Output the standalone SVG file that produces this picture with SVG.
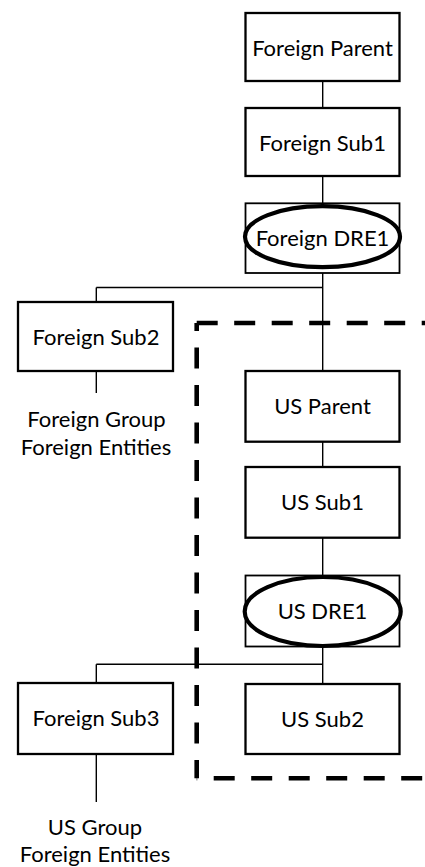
<svg xmlns="http://www.w3.org/2000/svg" width="425" height="867" viewBox="0 0 425 867">
  <style>
    .box { fill: #fff; stroke: #000; stroke-width: 2.3; }
    .dre { fill: #fff; stroke: #000; stroke-width: 1.8; }
    .oval { fill: #fff; stroke: #000; stroke-width: 4.2; }
    .wire { fill: none; stroke: #000; stroke-width: 1.4; }
    .fence { fill: none; stroke: #000; stroke-width: 4.6; stroke-dasharray: 21 16.5; }
    text { font-family: Lato, "Liberation Sans", sans-serif; font-size: 22px; fill: #000; text-anchor: middle; }
  </style>
  <rect width="425" height="867" fill="#fff"/>

  <!-- US group boundary (dashed) -->
  <g id="us-boundary">
    <path class="fence" d="M196.7,323 H440"/>
    <path class="fence" d="M196.7,323 V778.3" stroke-dashoffset="13"/>
    <path class="fence" d="M196.7,778.3 H440" stroke-dashoffset="20.5"/>
  </g>

  <!-- ownership connectors -->
  <g id="connectors">
    <path class="wire" d="M322.7,81 V108"/>
    <path class="wire" d="M322.7,176 V203"/>
    <path class="wire" d="M322.7,273 V371"/>
    <path class="wire" d="M96.3,287.5 H322.7"/>
    <path class="wire" d="M96.3,287.5 V302"/>
    <path class="wire" d="M96.3,371 V393"/>
    <path class="wire" d="M322.7,441.7 V467"/>
    <path class="wire" d="M322.7,537.7 V575.5"/>
    <path class="wire" d="M322.7,646.5 V684"/>
    <path class="wire" d="M96.3,664.3 H322.7"/>
    <path class="wire" d="M96.3,664.3 V683"/>
    <path class="wire" d="M96.3,754 V802"/>
  </g>

  <g id="foreign-parent">
    <rect class="box" x="245.5" y="13" width="154" height="68"/>
    <text x="322.5" y="55.5">Foreign Parent</text>
  </g>

  <g id="foreign-sub1">
    <rect class="box" x="245.5" y="108" width="154" height="68"/>
    <text x="322.5" y="151">Foreign Sub1</text>
  </g>

  <g id="foreign-dre1">
    <rect class="dre" x="245.5" y="203.3" width="154" height="69.7"/>
    <ellipse class="oval" cx="322.5" cy="236.7" rx="77.5" ry="30.5"/>
    <text x="322.5" y="245.5">Foreign DRE1</text>
  </g>

  <g id="foreign-sub2">
    <rect class="box" x="18" y="302" width="155" height="69"/>
    <text x="96" y="345">Foreign Sub2</text>
  </g>

  <g id="foreign-group-label">
    <text x="96.5" y="427">Foreign Group</text>
    <text x="96" y="455">Foreign Entities</text>
  </g>

  <g id="us-parent">
    <rect class="box" x="245.5" y="371" width="154" height="70.7"/>
    <text x="322.5" y="414">US Parent</text>
  </g>

  <g id="us-sub1">
    <rect class="box" x="245.5" y="467" width="154" height="70.7"/>
    <text x="322.5" y="510">US Sub1</text>
  </g>

  <g id="us-dre1">
    <rect class="dre" x="245.5" y="575.5" width="154" height="71"/>
    <ellipse class="oval" cx="322.7" cy="611.5" rx="78" ry="34.5"/>
    <text x="322.5" y="619">US DRE1</text>
  </g>

  <g id="us-sub2">
    <rect class="box" x="245.5" y="684" width="154" height="70"/>
    <text x="322.5" y="727">US Sub2</text>
  </g>

  <g id="foreign-sub3">
    <rect class="box" x="18" y="683" width="155" height="71"/>
    <text x="96" y="726">Foreign Sub3</text>
  </g>

  <g id="us-group-label">
    <text x="95" y="835">US Group</text>
    <text x="95" y="862">Foreign Entities</text>
  </g>
</svg>
